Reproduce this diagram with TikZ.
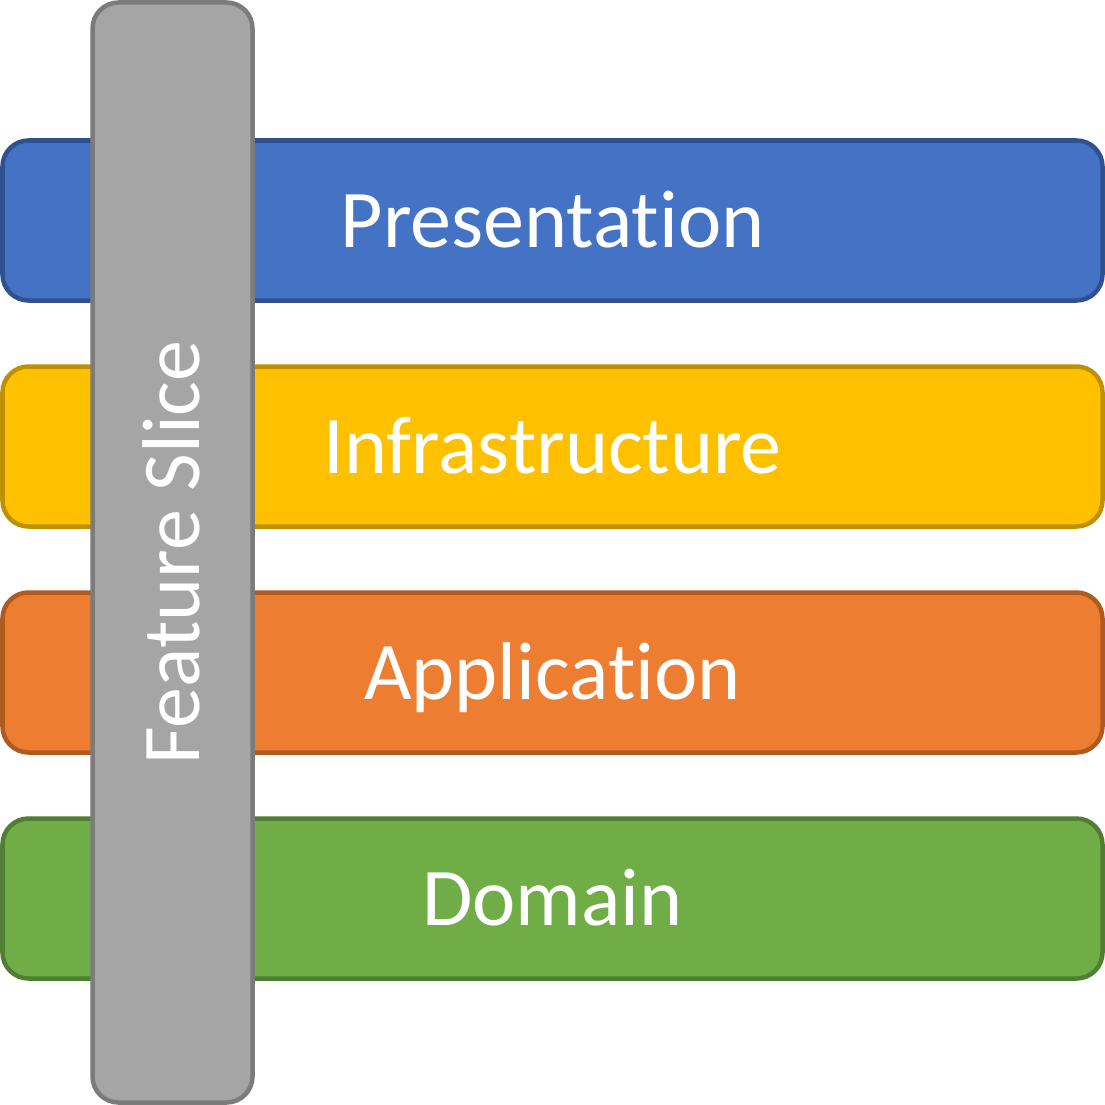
\documentclass[tikz,border=0pt]{standalone}
\usepackage{fontspec}
\setmainfont{Carlito}[Ligatures={NoCommon,NoRare}]
\definecolor{presfill}{HTML}{4472C4}
\definecolor{presline}{HTML}{2F528F}
\definecolor{infrafill}{HTML}{FFC000}
\definecolor{infraline}{HTML}{BF9000}
\definecolor{appfill}{HTML}{ED7D31}
\definecolor{appline}{HTML}{AE5A21}
\definecolor{domfill}{HTML}{70AD47}
\definecolor{domline}{HTML}{507E32}
\definecolor{slicefill}{HTML}{A5A5A5}
\definecolor{sliceline}{HTML}{7B7B7B}
\tikzset{
  layerbar/.style={rectangle, rounded corners=26pt, line width=4.5pt,
    minimum width=1100pt, minimum height=160pt, inner sep=0pt,
    text height=54pt, text depth=0pt,
    text=white, font=\fontsize{82}{98}\selectfont},
  slicebar/.style={layerbar, rotate=90, fill=slicefill, draw=sliceline}
}
\begin{document}
\begin{tikzpicture}[x=1pt,y=-1pt]
\useasboundingbox (0,0) rectangle (1105,1105);
\node[layerbar, fill=presfill, draw=presline] (pres) at (552.5,220.5) {Presentation};
\node[layerbar, fill=infrafill, draw=infraline] (infra) at (552.5,446.5) {Infrastructure};
\node[layerbar, fill=appfill, draw=appline] (app) at (552.5,672.5) {Application};
\node[layerbar, fill=domfill, draw=domline] (dom) at (552.5,898.5) {Domain};
\node[slicebar] (slice) at (172.5,552.5) {Feature Slice};
\end{tikzpicture}
\end{document}
